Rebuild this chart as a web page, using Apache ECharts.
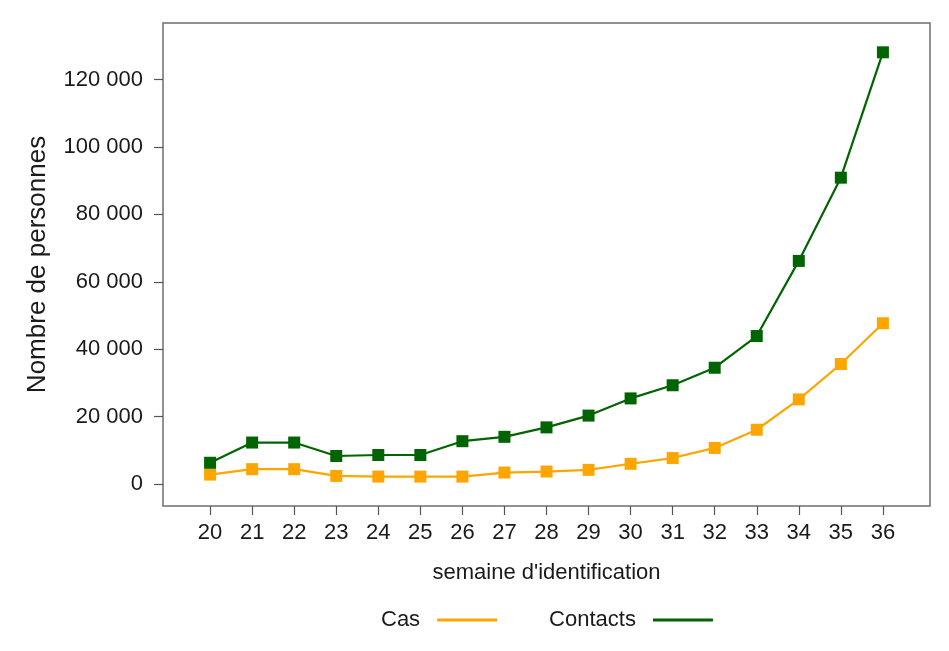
<!DOCTYPE html>
<html>
<head>
<meta charset="utf-8">
<script src="https://cdn.jsdelivr.net/npm/echarts@6/dist/echarts.min.js"></script>
<style>html,body{margin:0;padding:0;background:#fff}#c{width:949px;height:651px}</style>
</head>
<body>
<div id="c"></div>
<script>
const weeks = [20,21,22,23,24,25,26,27,28,29,30,31,32,33,34,35,36];
const cas = [2800,4400,4400,2400,2200,2200,2200,3400,3700,4200,6000,7700,10700,16100,25100,35600,47700];
const contacts = [6300,12300,12300,8300,8600,8600,12700,14000,16800,20300,25400,29300,34500,43900,66200,90900,128100];
const yTicks = [0,20000,40000,60000,80000,100000,120000];
const xTitle = "semaine d'identification";
const yTitle = "Nombre de personnes";

const fmt = v => String(v).replace(/\B(?=(\d{3})+(?!\d))/g, ' ');
const font = 'Liberation Sans';
const chart = echarts.init(document.getElementById('c'));
chart.setOption({
  animation: false,
  grid: {left:163, right:19, top:23, bottom:145, show:true, borderColor:'#6e6e6e', borderWidth:1.5, backgroundColor:'transparent'},
  xAxis: {
    type:'value', min:18.88, max:37.12,
    axisLine:{show:false, onZero:false}, splitLine:{show:false},
    axisTick:{show:true, customValues:weeks, length:9, lineStyle:{color:'#555', width:1.2}},
    axisLabel:{customValues:weeks, color:'#1a1a1a', fontSize:22, fontFamily:font, margin:16},
    name:xTitle, nameLocation:'middle', nameGap:56,
    nameTextStyle:{color:'#1a1a1a', fontSize:22, fontFamily:font}
  },
  yAxis: {
    type:'value', min:-6530, max:136800,
    axisLine:{show:false, onZero:false}, splitLine:{show:false},
    axisTick:{show:true, customValues:yTicks, length:9, lineStyle:{color:'#555', width:1.2}},
    axisLabel:{customValues:yTicks, formatter:v=>fmt(v), color:'#1a1a1a', fontSize:22, fontFamily:font, margin:20},
    name:yTitle, nameLocation:'middle', nameGap:112,
    nameTextStyle:{color:'#1a1a1a', fontSize:26, fontFamily:font}
  },
  legend: {
    left:376, top:604, align:'right', itemGap:52, itemWidth:60, itemHeight:3,
    textStyle:{color:'#1a1a1a', fontSize:22, fontFamily:font, padding:[0,12,0,0]},
    data:[{name:'Cas', icon:'rect'},{name:'Contacts', icon:'rect'}]
  },
  series: [
    {name:'Cas', type:'line', data:weeks.map((w,i)=>[w,cas[i]]), symbol:'rect', symbolSize:12,
     lineStyle:{color:'#FFA500', width:2.2}, itemStyle:{color:'#FFA500'}, z:2},
    {name:'Contacts', type:'line', data:weeks.map((w,i)=>[w,contacts[i]]), symbol:'rect', symbolSize:12,
     lineStyle:{color:'#006400', width:2.2}, itemStyle:{color:'#006400'}, z:3}
  ]
});
</script>
</body>
</html>
